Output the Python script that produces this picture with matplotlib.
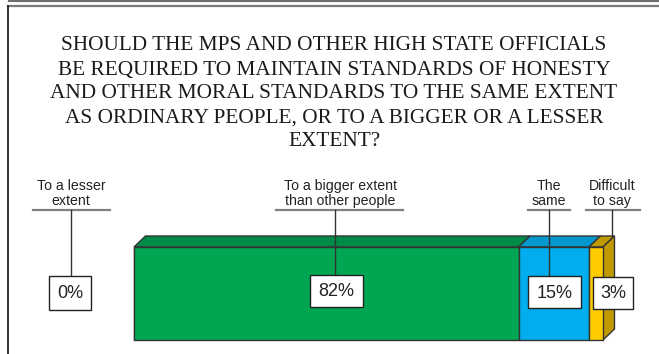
import matplotlib.pyplot as plt
from matplotlib.patches import Polygon, Rectangle
import numpy as np

# data
categories = ["To a lesser\nextent", "To a bigger extent\nthan other people", "The\nsame", "Difficult\nto say"]
values = [0, 82, 15, 3]
front_colors = ["#00a651", "#00a651", "#00aeef", "#ffcc00"]
top_colors = ["#008c48", "#008c48", "#0098cf", "#bf9a00"]
title_lines = ["SHOULD THE MPS AND OTHER HIGH STATE OFFICIALS",
               "BE REQUIRED TO MAINTAIN STANDARDS OF HONESTY",
               "AND OTHER MORAL STANDARDS TO THE SAME EXTENT",
               "AS ORDINARY PEOPLE, OR TO A BIGGER OR A LESSER",
               "EXTENT?"]

W, H = 659, 354
fig = plt.figure(figsize=(W / 100, H / 100), dpi=100)

# bar axes: x in percent, y in pixels (front face 93 px, top depth 11 px)
axb = fig.add_axes([134 / W, (H - 340) / H, 469 / W, 104 / H])
axb.set_xlim(0, 100)
axb.set_ylim(0, 104)
axb.axis("off")
front_h, depth = 93, 11
dx = 11.5 / 4.69

lefts = np.concatenate([[0], np.cumsum(values)[:-1]])
axb.barh(0, values, left=lefts, height=front_h, align="edge",
         color=front_colors, edgecolor="#333333", linewidth=1, zorder=3, clip_on=False)
for l, v, c in zip(lefts, values, top_colors):
    if v == 0:
        continue
    axb.add_patch(Polygon([(l, front_h), (l + dx, front_h + depth), (l + v + dx, front_h + depth),
                           (l + v, front_h)], closed=True, facecolor=c, edgecolor="#333333",
                          linewidth=1, zorder=2, clip_on=False))
end = lefts[-1] + values[-1]
axb.add_patch(Polygon([(end, 0), (end + dx, depth), (end + dx, front_h + depth), (end, front_h)],
                      closed=True, facecolor=top_colors[-1], edgecolor="#333333",
                      linewidth=1, zorder=2, clip_on=False))

# overlay axes in pixel coordinates
ax = fig.add_axes([0, 0, 1, 1])
ax.set_xlim(0, W)
ax.set_ylim(H, 0)
ax.axis("off")
ax.patch.set_alpha(0)

# frame
ax.plot([9, W], [0.7, 0.7], color="#6e6e6e", lw=1.5)
ax.plot([8, W], [6.3, 6.3], color="#7a7a7a", lw=1.6)
ax.plot([8, 8], [6, H], color="#222222", lw=1.3)

for i, line in enumerate(title_lines):
    ax.text(334, 46 + 24 * i, line, ha="center", va="center", fontsize=15.3,
            family="Liberation Serif", color="#1a1a1a")

# labels, underlines, leader lines, value boxes
label_x = [71, 340, 549, 612]
ul = [(33, 110), (276, 403), (528, 570), (586, 640)]
lead_x = [71, 335, 549, 611.5]
lead_end = [276, 275, 276, 236]
boxes = [(49, 276, 42, 34), (310, 275, 53, 32), (528, 276, 53, 32), (593, 277, 40, 32)]

for cat, v, lx, (u0, u1), ldx, le, (bx, by, bw, bh) in zip(
        categories, values, label_x, ul, lead_x, lead_end, boxes):
    ax.text(lx, 208, cat, ha="center", va="bottom", fontsize=10.2,
            family="Liberation Sans", linespacing=1.1, color="#222222")
    ax.plot([u0, u1], [210, 210], color="#808080", lw=1.6, zorder=5)
    ax.plot([ldx, ldx], [210, le], color="#333333", lw=1, zorder=5)
    ax.add_patch(Rectangle((bx, by), bw, bh, facecolor="white", edgecolor="#222222",
                           lw=1, zorder=6))
    ax.text(bx + bw / 2, by + bh / 2 + 1, f"{v}%", ha="center", va="center",
            fontsize=13, family="Liberation Sans", color="#222222", zorder=7)

fig.savefig("out.png", dpi=100)
